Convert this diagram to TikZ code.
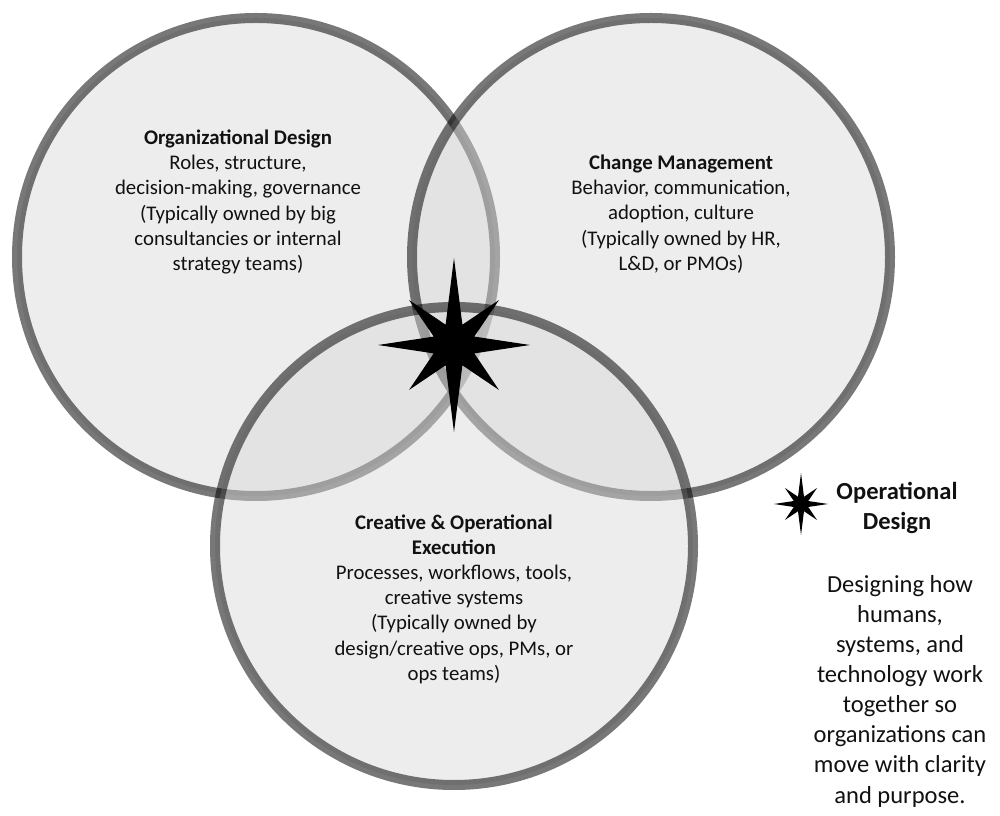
\documentclass[tikz,border=0pt]{standalone}
\usepackage{fontspec}
\setmainfont{Carlito}
\definecolor{vennfill}{RGB}{216,216,216}
\definecolor{txt}{RGB}{17,17,17}
\begin{document}
\begin{tikzpicture}[x=0.75pt,y=-0.75pt,
  venn/.style={circle, inner sep=0pt, minimum size=358.5pt,
    fill=vennfill, fill opacity=0.46, draw=black, draw opacity=0.53, line width=7.5pt},
  body/.style={align=center, text=txt, inner sep=0pt,
    font=\fontsize{15.6}{18.9}\selectfont},
  legtitle/.style={align=center, text=txt, inner sep=0pt,
    font=\fontsize{18.4}{22.5}\selectfont\bfseries},
  legbody/.style={align=center, text=txt, inner sep=0pt,
    font=\fontsize{18.4}{22.6}\selectfont},
  compass/.pic={
    \fill[black] (0,-87) -- (8.4,-20.3) -- (45,-45) -- (20.3,-8.4) -- (76,0)
      -- (20.3,8.4) -- (45,45) -- (8.4,20.3) -- (0,87) -- (-8.4,20.3)
      -- (-45,45) -- (-20.3,8.4) -- (-76,0) -- (-20.3,-8.4) -- (-45,-45)
      -- (-8.4,-20.3) -- cycle;
  }]
\useasboundingbox (0,0) rectangle (1000,816);

% circles (drawn in order: left, right, bottom)
\node[venn] (org) at (256,257) {};
\node[venn] (chg) at (651,257) {};
\node[venn] (exe) at (454,546) {};

% circle texts
\node[body] (orgtxt) at (238,202) {\textbf{Organizational Design}\\Roles, structure,\\decision-making, governance\\(Typically owned by big\\consultancies or internal\\strategy teams)};
\node[body] (chgtxt) at (681,214) {\textbf{Change Management}\\Behavior, communication,\\adoption, culture\\(Typically owned by HR,\\L\&D, or PMOs)};
\node[body] (exetxt) at (454,599) {\textbf{Creative \& Operational}\\\textbf{Execution}\\Processes, workflows, tools,\\creative systems\\(Typically owned by\\design/creative ops, PMs, or\\ops teams)};

% central star
\pic (centerstar) at (454,345) {compass};

% legend
\pic[scale=0.356] (legstar) at (801,504) {compass};
\node[legtitle] (legtitle) at (897,508) {Operational\\Design};
\node[legbody] (legdesc) at (900,691) {Designing how\\humans,\\systems, and\\technology work\\together so\\organizations can\\move with clarity\\and purpose.};
\end{tikzpicture}
\end{document}
